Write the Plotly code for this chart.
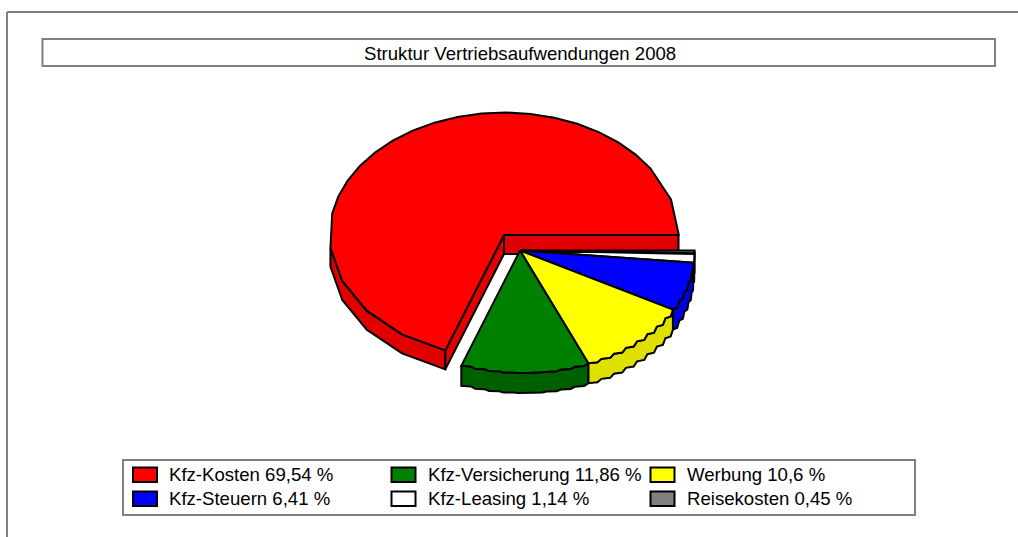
import math
import plotly.graph_objects as go

TITLE = "Struktur Vertriebsaufwendungen 2008"
labels = ["Kfz-Kosten", "Kfz-Versicherung", "Werbung", "Kfz-Steuern", "Kfz-Leasing", "Reisekosten"]
values = [69.54, 11.86, 10.6, 6.41, 1.14, 0.45]
top_colors = ["#FF0000", "#008000", "#FFFF00", "#0000FF", "#FFFFFF", "#808080"]
side_colors = ["#E00000", "#006000", "#E0E000", "#0000E0", "#E0E0E0", "#707070"]

GREY = "#808080"
FONT = "Liberation Sans"
FONT_SIZE = 18.6
RX, RY, DEPTH = 174.5, 122.5, 19
REST_DEPTH = 20
RED_C = (504, 235)
REST_C = (520, 250.5)
RED_STEP = 16.1
SCALLOP_STEP = 5.0

fig = go.Figure()


def pt(c, a, dy=0):
    r = math.radians(a)
    return (c[0] + RX * math.cos(r), c[1] - RY * math.sin(r) + dy)


def poly(points, fill, name):
    xs = [p[0] for p in points] + [points[0][0]]
    ys = [p[1] for p in points] + [points[0][1]]
    fig.add_trace(go.Scatter(x=xs, y=ys, mode="lines", fill="toself", fillcolor=fill,
                             line=dict(color="#000000", width=2), name=name,
                             showlegend=False, hoverinfo="name"))


def coarse_angles(a0, a1):
    """Facets of the big slice: wide at the front and at the right, finer along the back."""
    out = [a1]
    a = a1
    while a > a0 + 0.5:
        a -= RED_STEP / 2 if 40 < a < 180 else RED_STEP
        if a > a0 + 0.5:
            out.append(a)
    out.append(a0)
    return out[::-1]


def scallop(c, a0, a1, dy=0):
    """Slightly scalloped arc from a0 to a1, as on the rim of the source chart."""
    n = max(1, round((a1 - a0) / SCALLOP_STEP))
    pts = [pt(c, a0, dy)]
    for i in range(1, n + 1):
        prev = pts[-1]
        p = pt(c, a0 + (a1 - a0) * i / n, dy)
        pts.append((prev[0] + 0.7 * (p[0] - prev[0]), prev[1] + 0.2 * (p[1] - prev[1])))
        pts.append(p)
    return pts


total = sum(values)
spans = []
acc = 0.0
for v in values:
    spans.append((acc, acc + v / total * 360))
    acc += v / total * 360

# Main (exploded away) slice
a0, a1 = spans[0]
angs = coarse_angles(a0, a1)
vis = [a for a in angs if a >= 180]
rim_top = [pt(RED_C, a) for a in vis]
rim_bot = [pt(RED_C, a, DEPTH) for a in vis[::-1]]
poly(rim_top + rim_bot, side_colors[0], labels[0])
poly([RED_C, pt(RED_C, a0), pt(RED_C, a0, DEPTH), (RED_C[0], RED_C[1] + DEPTH)], side_colors[0], labels[0])
poly([RED_C, pt(RED_C, a1), pt(RED_C, a1, DEPTH), (RED_C[0], RED_C[1] + DEPTH)], side_colors[0], labels[0])
poly([RED_C] + [pt(RED_C, a) for a in angs], top_colors[0], labels[0])

# Remaining slices, back to front
order = list(range(len(values) - 1, 0, -1))
for i in order:
    a0, a1 = spans[i]
    if a1 > 180:
        s = max(a0, 180)
        poly(scallop(REST_C, s, a1) + scallop(REST_C, s, a1, REST_DEPTH)[::-1], side_colors[i], labels[i])
for i in order:
    a0, a1 = spans[i]
    poly([REST_C] + scallop(REST_C, a0, a1), top_colors[i], labels[i])

shapes = [
    # outer frame: left and top edges
    dict(type="line", x0=7, x1=7, y0=12, y1=537, line=dict(color=GREY, width=2)),
    dict(type="line", x0=7, x1=1018, y0=12, y1=12, line=dict(color=GREY, width=2)),
    # title box
    dict(type="rect", x0=42.5, x1=995, y0=39, y1=66, line=dict(color=GREY, width=2)),
    # legend box
    dict(type="rect", x0=123, x1=915, y0=460, y1=515, line=dict(color=GREY, width=2)),
]

annotations = [dict(x=520, y=53.5, text=TITLE, showarrow=False, xanchor="center", yanchor="middle",
                    font=dict(family=FONT, size=FONT_SIZE, color="#000000"))]

col_x = [133, 391.5, 650.5]
row_y = [475, 499]
for i, (lab, val, col) in enumerate(zip(labels, values, top_colors)):
    x = col_x[i % 3]
    y = row_y[i // 3]
    shapes.append(dict(type="rect", x0=x, x1=x + 24, y0=y - 7.5, y1=y + 7, fillcolor=col,
                       line=dict(color="#000000", width=2)))
    annotations.append(dict(x=x + 34, y=y - 0.5, text=f"{lab} {str(val).replace('.', ',')} %", showarrow=False,
                            xanchor="left", yanchor="middle",
                            font=dict(family=FONT, size=FONT_SIZE, color="#000000")))

fig.update_layout(
    width=1018, height=537, margin=dict(l=0, r=0, t=0, b=0),
    paper_bgcolor="#FFFFFF", plot_bgcolor="#FFFFFF", showlegend=False,
    xaxis=dict(range=[0, 1018], visible=False, fixedrange=True),
    yaxis=dict(range=[537, 0], visible=False, fixedrange=True),
    shapes=shapes, annotations=annotations,
)

fig.write_html("out.html", config={"displayModeBar": False},
               post_script="document.body.style.margin='0';document.body.style.overflow='hidden';")
